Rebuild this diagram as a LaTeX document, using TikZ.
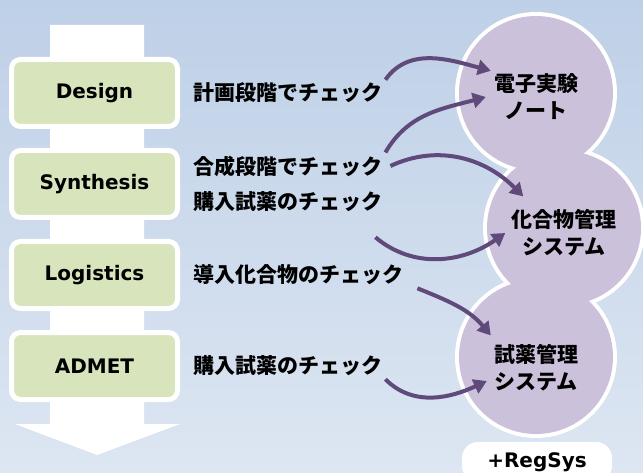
\documentclass[tikz,border=0pt]{standalone}
\usepackage{fontspec}
\setmainfont{DejaVu Sans}
\newfontfamily\jpfont{Noto Sans CJK JP}
\usetikzlibrary{arrows.meta}
\usetikzlibrary{positioning}

\definecolor{bgTL}{RGB}{190,208,231}
\definecolor{bgBR}{RGB}{221,230,242}
\definecolor{phasegreen}{RGB}{216,228,188}
\definecolor{syspurple}{RGB}{204,193,218}
\definecolor{arrowpurple}{RGB}{96,74,123}

\begin{document}
\begin{tikzpicture}[x=1pt,y=1pt,
node distance=19pt,
auto,
pfeil/.style={
  line width=4pt,
  draw=arrowpurple,
  -{Triangle[length=13pt,width=15pt]}
},
phase/.style={
  minimum width=166pt,
  minimum height=67pt,
  rectangle,
  rounded corners=9pt,
  fill=phasegreen,
  draw=white,
  line width=5pt,
  font=\fontsize{20}{24}\selectfont\bfseries
},
checktext/.style={
  inner sep=3pt,
  font=\jpfont\fontsize{21}{25}\selectfont\bfseries
},
ring/.style={
  circle,
  fill=white,
  minimum size=162pt,
  inner sep=0pt
},
disc/.style={
  circle,
  fill=syspurple,
  minimum size=154pt,
  inner sep=0pt
},
systext/.style={
  align=center,
  inner sep=3pt,
  font=\jpfont\fontsize{21}{27}\selectfont\bfseries
},
pill/.style={
  rectangle,
  rounded corners=16pt,
  fill=white,
  minimum width=150pt,
  minimum height=40pt,
  font=\fontsize{20}{24}\selectfont\bfseries
}]
\useasboundingbox (0,0) rectangle (643,472);
\clip (0,0) rectangle (643,472);
\shade[shading angle=45, top color=bgTL, bottom color=bgBR] (0,0) rectangle (643,472);

% big arrow behind the phases
\fill[white] (50,447) -- (144,447) -- (144,48) -- (180,48) -- (97,17) -- (15,48) -- (50,48) -- cycle;

\node[phase] (design) at (94.5,379) {Design};
\node[phase] (synthesis) [below=of design] {Synthesis};
\node[phase] (logistics) [below=of synthesis] {Logistics};
\node[phase] (admet) [below=of logistics] {ADMET};

\node[checktext] (plan) [right=10pt of design] {計画段階でチェック};
\node[checktext] (syn1) [right=10pt of synthesis, yshift=18pt] {合成段階でチェック};
\node[checktext] (syn2) [right=10pt of synthesis, yshift=-18pt] {購入試薬のチェック};
\node[checktext] (log) [right=10pt of logistics] {導入化合物のチェック};
\node[checktext] (adm) [right=10pt of admet] {購入試薬のチェック};

% systems: white rings first, then the discs
\node[ring] (enbw) at (536,379) {};
\node[ring] (cmsw) at (564,244) {};
\node[ring] (rmsw) at (536,115) {};
\node[disc] (enbd) at (enbw) {};
\node[disc] (cmsd) at (cmsw) {};
\node[disc] (rmsd) at (rmsw) {};

\node[systext] (enb) at ([yshift=-4pt]enbd.center) {電子実験\\ノート};
\node[systext] (cms) at ([yshift=-5pt]cmsd.center) {化合物管理\\システム};
\node[systext] (rms) at ([yshift=-11pt]rmsd.center) {試薬管理\\システム};

\node[pill] (regsys) at (537,10) {+RegSys};

\draw[pfeil] (plan.north east) to[out=55,in=165] (enb.north west);
\draw[pfeil] (syn1.north east) to[out=60,in=195] ([xshift=-5pt]enb.west);
\draw[pfeil] ([xshift=5pt]syn1.east) to[out=25,in=135] ([shift={(15pt,10pt)}]cms.north west);
\draw[pfeil] ([shift={(-10pt,-22pt)}]syn2.south east) to[out=-40,in=215] ([xshift=-3pt]cms.west);
\draw[pfeil] ([xshift=11pt]log.south east) to[out=-22,in=130] ([yshift=6pt]rms.north west);
\draw[pfeil] (adm.south east) to[out=-45,in=205] ([shift={(-4pt,-13pt)}]rms.west);

\end{tikzpicture}
\end{document}
